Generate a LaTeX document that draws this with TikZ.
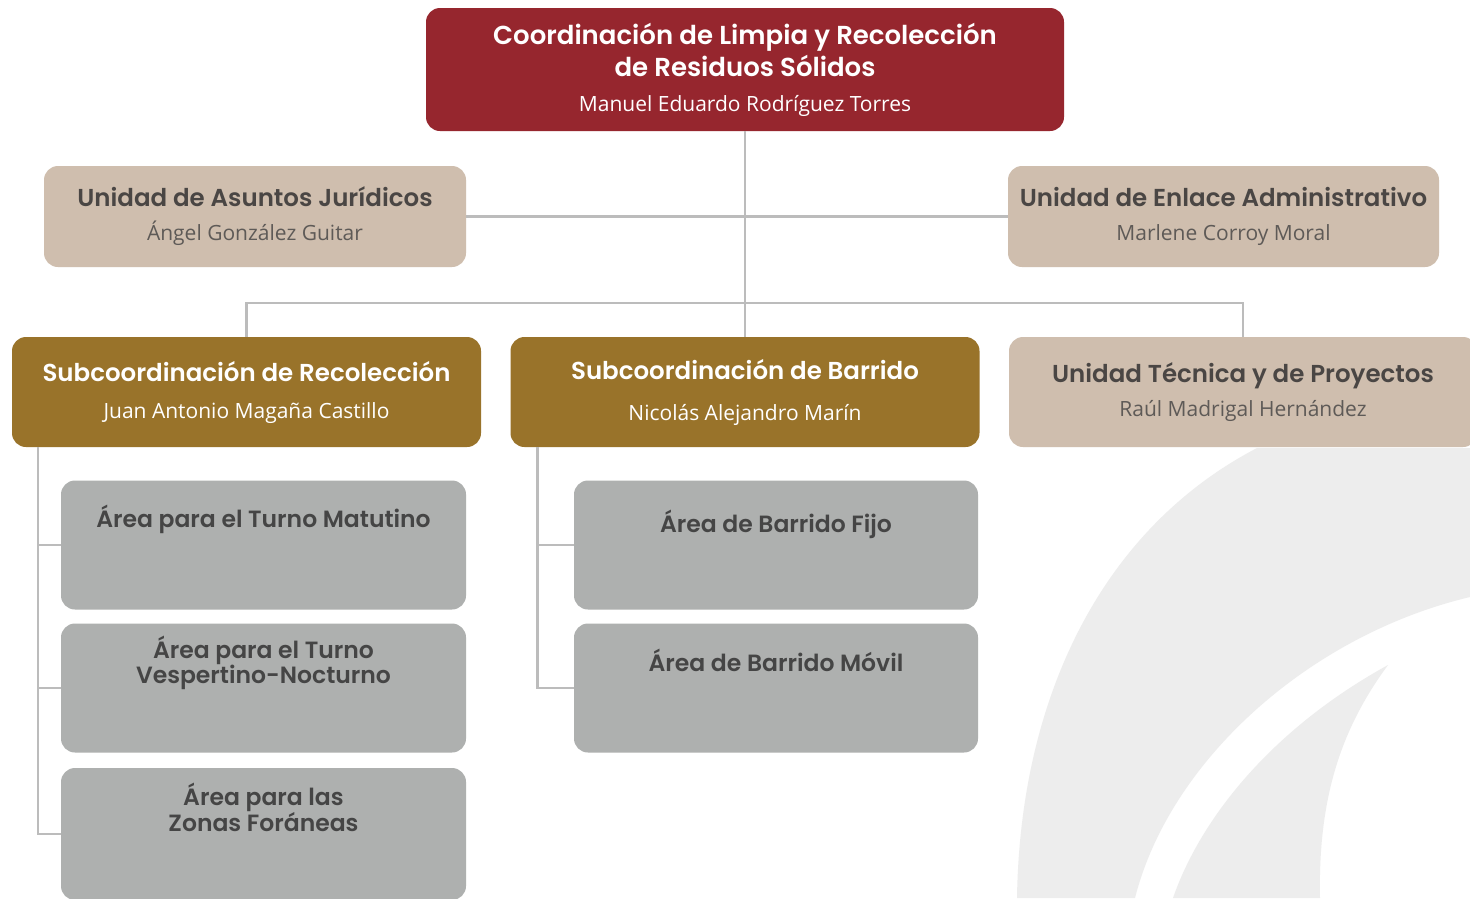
\documentclass[tikz,border=0pt]{standalone}
\usepackage{fontspec}
\setmainfont{Open Sans}
\newfontfamily\headfont{Poppins SemiBold}
\usetikzlibrary{positioning}
\definecolor{vino}{HTML}{96262E}
\definecolor{arena}{HTML}{CFBEAE}
\definecolor{ocre}{HTML}{99732A}
\definecolor{perla}{HTML}{AEB0AF}
\definecolor{linea}{HTML}{BCBCBC}
\definecolor{marca}{HTML}{EDEDED}
\definecolor{tinta}{HTML}{4A4644}
\definecolor{tintanom}{HTML}{5E5A57}
\definecolor{tintagris}{HTML}{454545}

\begin{document}
\begin{tikzpicture} [x=1pt, y=-1pt,
	box/.style = {rounded corners=14pt, inner sep=0pt, align=center, font=\headfont\fontsize{24.5}{32}\selectfont},
	coordbox/.style = {box, fill=vino, text=white, minimum width=638pt, minimum height=123pt, font=\headfont\fontsize{26}{32}\selectfont},
	unitbox/.style = {box, fill=arena, text=tinta, minimum width=422pt, minimum height=101pt},
	subbox/.style = {box, fill=ocre, text=white, minimum width=469pt, minimum height=110pt},
	areabox/.style = {rounded corners=14pt, fill=perla, minimum width=405pt, minimum height=129pt},
	areatext/.style = {inner sep=0pt, align=center, text=tintagris, font=\headfont\fontsize{23.5}{25}\selectfont},
	link/.style = {draw=linea, line width=2.5pt}]
\newcommand{\nombre}[1][.]{\normalfont\fontsize{21}{24}\selectfont\color{#1}}
\useasboundingbox (0,0) rectangle (1470,898);
\fill[white] (0,0) rectangle (1470,898);
% marca de agua
\fill[marca] (1257,448) -- (1470,448) -- (1470,597)
	.. controls (1310,635) and (1170,760) .. (1135,898) -- (1017,898)
	.. controls (1020,700) and (1100,530) .. (1257,448) -- cycle;
\fill[marca] (1388,665) .. controls (1270,730) and (1200,820) .. (1173,898)
	-- (1320,898) .. controls (1318,800) and (1340,730) .. (1388,665) -- cycle;

\node[coordbox] (coord) at (745,69.5) {Coordinación de Limpia y Recolección\\de Residuos Sólidos\\[3pt]\nombre Manuel Eduardo Rodríguez Torres};
\node[unitbox] (juridico) at (255,216.5) {Unidad de Asuntos Jurídicos\\[2pt]\nombre[tintanom]Ángel González Guitar};
\node[unitbox, minimum width=431pt] (enlace) at (1223.5,216.5) {Unidad de Enlace Administrativo\\[2pt]\nombre[tintanom]Marlene Corroy Moral};
\node[subbox] (recol) at (246.5,392) {Subcoordinación de Recolección\\[5pt]\nombre Juan Antonio Magaña Castillo};
\node[subbox] (barrido) at (745,392) {Subcoordinación de Barrido\\[9pt]\nombre Nicolás Alejandro Marín};
\node[unitbox, minimum width=468pt, minimum height=110pt] (tecnica) at (1243,392) {Unidad Técnica y de Proyectos\\[2pt]\nombre[tintanom]Raúl Madrigal Hernández};

% areas
\node[areabox] (matutino) at (263.5,545) {};
\node[areabox] (vespertino) at (263.5,688) {};
\node[areabox, minimum height=132pt] (foraneas) at (263.5,834) {};
\node[areabox, minimum width=404pt] (fijo) at (776,545) {};
\node[areabox, minimum width=404pt] (movil) at (776,688) {};
\node[areatext, below=24pt of matutino.north] (tmatutino) {Área para el Turno Matutino};
\node[areatext, below=12pt of vespertino.north] (tvespertino) {Área para el Turno\\Vespertino-Nocturno};
\node[areatext, below=15pt of foraneas.north] (tforaneas) {Área para las\\Zonas Foráneas};
\node[areatext, below=29pt of fijo.north] (tfijo) {Área de Barrido Fijo};
\node[areatext, below=25pt of movil.north] (tmovil) {Área de Barrido Móvil};

% conectores
\draw[link] (coord.south) -- (barrido.north);
\draw[link] (juridico.east) -- (enlace.west);
\draw[link] (recol.north) -- ++(0,-34) -| (tecnica.north);
\coordinate (recbus) at ([xshift=26pt]recol.south west);
\coordinate (barbus) at ([xshift=27pt]barrido.south west);
\foreach \a in {matutino, vespertino, foraneas} {
	\draw[link] (recbus) |- (\a.west);
}
\foreach \a in {fijo, movil} {
	\draw[link] (barbus) |- (\a.west);
}
\end{tikzpicture}
\end{document}
